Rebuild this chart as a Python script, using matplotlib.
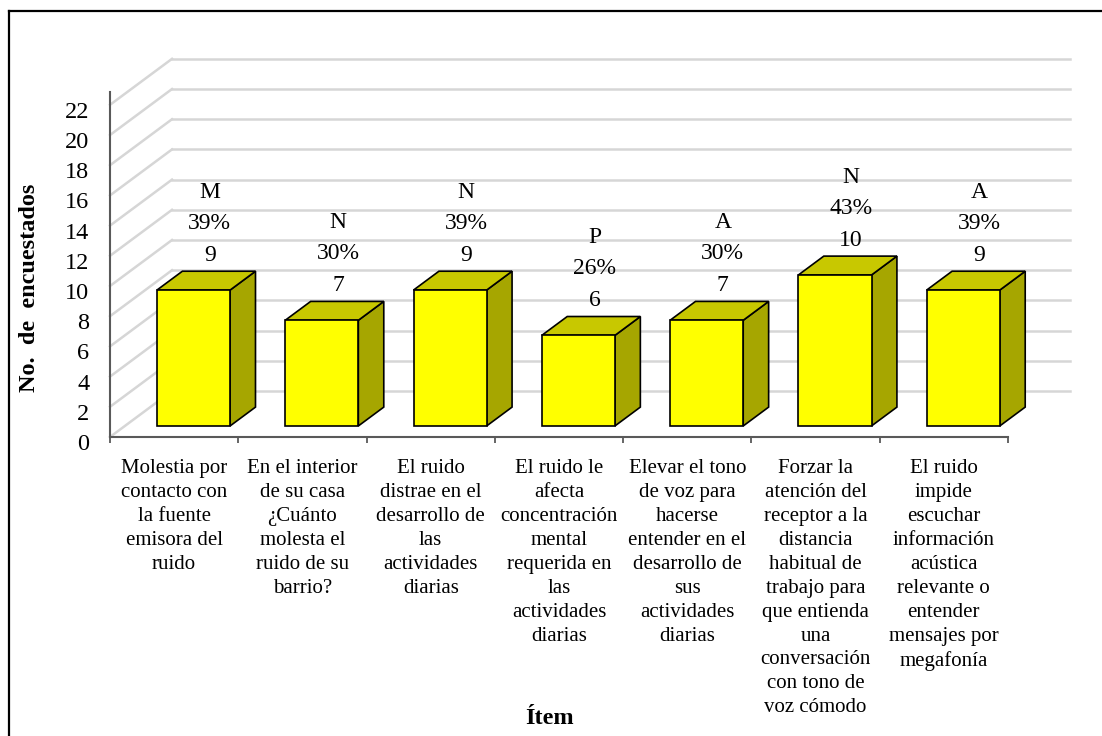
import matplotlib
matplotlib.use('Agg')
import matplotlib.pyplot as plt
from matplotlib.patches import Polygon
from matplotlib.lines import Line2D
from matplotlib.transforms import ScaledTranslation

plt.rcParams['font.family'] = ['Liberation Serif', 'DejaVu Serif']

items = [
    'Molestia por\ncontacto con\nla fuente\nemisora del\nruido',
    'En el interior\nde su casa\n¿Cuánto\nmolesta el\nruido de su\nbarrio?',
    'El ruido\ndistrae en el\ndesarrollo de\nlas\nactividades\ndiarias',
    'El ruido le\nafecta\nconcentración\nmental\nrequerida en\nlas\nactividades\ndiarias',
    'Elevar el tono\nde voz para\nhacerse\nentender en el\ndesarrollo de\nsus\nactividades\ndiarias',
    'Forzar la\natención del\nreceptor a la\ndistancia\nhabitual de\ntrabajo para\nque entienda\nuna\nconversación\ncon tono de\nvoz cómodo',
    'El ruido\nimpide\nescuchar\ninformación\nacústica\nrelevante o\nentender\nmensajes por\nmegafonía',
]
counts = [9, 7, 9, 6, 7, 10, 9]
levels = ['M', 'N', 'N', 'P', 'A', 'N', 'A']
percents = ['39%', '30%', '39%', '26%', '30%', '43%', '39%']
yticks = list(range(0, 23, 2))

W, H = 1102, 736
fig = plt.figure(figsize=(W / 100, H / 100), dpi=100)
# axes box in pixels: front plane of the 3-D box
x_left, x_right, y_zero, y_top = 110, 1008, 437, 92
ax = fig.add_axes([x_left / W, 1 - y_zero / H, (x_right - x_left) / W, (y_zero - y_top) / H])
n = len(items)
ymax = 22.85
ax.set_xlim(0, n)
ax.set_ylim(0, ymax)

# oblique depth offset (data units) from front plane to back wall
DX = 62 / ((x_right - x_left) / n)
DY = 46 / ((y_zero - y_top) / ymax)


def proj(x, y, z):
    return (x + z * DX, y + z * DY)


# back wall and side wall gridlines
grid_c = '#d6d6d6'
for v in yticks:
    bx0, by = proj(0, v, 1)
    bx1, _ = proj(n, v, 1)
    ax.add_line(Line2D([0, bx0], [v, by], color=grid_c, lw=1.8, zorder=1, clip_on=False))
    ax.add_line(Line2D([bx0, bx1], [by, by], color=grid_c, lw=1.8, zorder=1, clip_on=False))

# 3-D bars
z0, z1 = 0.24, 0.65
bw = 0.57
for i, v in enumerate(counts):
    xa = i + 0.25
    xb = xa + bw
    front = [proj(xa, 0, z0), proj(xb, 0, z0), proj(xb, v, z0), proj(xa, v, z0)]
    side = [proj(xb, 0, z0), proj(xb, 0, z1), proj(xb, v, z1), proj(xb, v, z0)]
    top = [proj(xa, v, z0), proj(xb, v, z0), proj(xb, v, z1), proj(xa, v, z1)]
    for pts, col in [(side, '#a6a600'), (top, '#c8c800'), (front, '#ffff00')]:
        ax.add_patch(Polygon(pts, closed=True, facecolor=col, edgecolor='black',
                             lw=1.2, joinstyle='miter', zorder=3, clip_on=False))
    anchor = proj(xa + bw / 2, v, 0.5)
    for off, txt in [(23, str(v)), (54.5, percents[i]), (86, levels[i])]:
        ax.annotate(txt, xy=anchor, xytext=(0, off), textcoords='offset pixels',
                    ha='center', va='center', fontsize=17, zorder=4)

# axes
for s in ['top', 'right']:
    ax.spines[s].set_visible(False)
ax.spines['left'].set_color('#595959')
ax.spines['bottom'].set_color('#595959')
ax.spines['left'].set_linewidth(1.5)
ax.spines['bottom'].set_linewidth(1.5)
ax.set_facecolor('none')

ax.set_yticks(yticks)
ax.set_yticklabels([str(t) for t in yticks], fontsize=17.5)
ax.tick_params(axis='y', length=0, pad=15)
shift = ScaledTranslation(0, -5 / 100, fig.dpi_scale_trans)
for t in ax.yaxis.get_major_ticks():
    t.label1.set_transform(t.label1.get_transform() + shift)

ax.set_xticks(range(n + 1))
ax.set_xticklabels([''] * (n + 1))
ax.tick_params(axis='x', which='major', length=4.5, width=1.3, color='#595959', direction='out')
ax.set_xticks([i + 0.5 for i in range(n)], labels=items, minor=True)
ax.tick_params(axis='x', which='minor', length=0, pad=16, labelsize=15)
for lbl in ax.get_xticklabels(minor=True):
    lbl.set_linespacing(1.35)
    lbl.set_multialignment('center')

ax.set_ylabel('No.  de  encuestados', fontsize=17.5, fontweight='bold')
ax.yaxis.set_label_coords((40 - x_left) / (x_right - x_left), (y_zero - 288) / (y_zero - y_top))
ax.set_xlabel('Ítem', fontsize=17.5, fontweight='bold')
ax.xaxis.set_label_coords((550 - x_left) / (x_right - x_left), (y_zero - 708) / (y_zero - y_top))

# outer chart border (runs off the right and bottom edges)
fig.add_artist(Line2D([9 / W, 9 / W], [0, 1 - 11 / H], color='black', lw=1.6, transform=fig.transFigure))
fig.add_artist(Line2D([9 / W, 1], [1 - 11 / H, 1 - 11 / H], color='black', lw=1.6, transform=fig.transFigure))

fig.savefig('out.png', dpi=100)
